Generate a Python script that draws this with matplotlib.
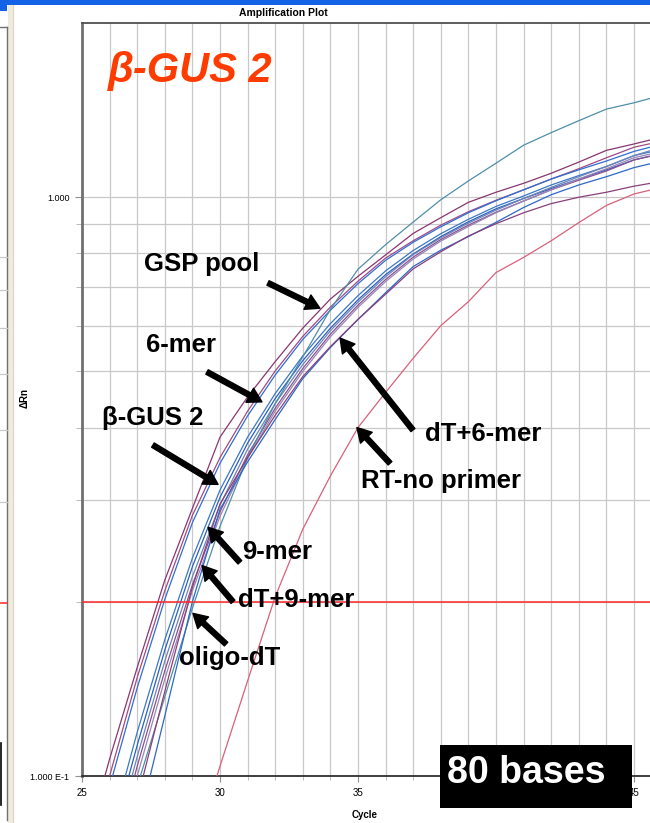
import matplotlib
matplotlib.use("Agg")
import matplotlib.pyplot as plt
from matplotlib.ticker import FixedLocator, FixedFormatter, NullFormatter
from matplotlib.patches import Rectangle
from matplotlib.lines import Line2D

# ---------------- data ----------------
cycles = list(range(25, 47))

gsp_pool = [0.072, 0.107, 0.154, 0.218, 0.290, 0.385, 0.452, 0.520, 0.594, 0.667, 0.730,
            0.795, 0.866, 0.922, 0.980, 1.020, 1.057, 1.100, 1.150, 1.205, 1.236, 1.270]
purple_early = [0.066, 0.100, 0.148, 0.209, 0.282, 0.355, 0.427, 0.501, 0.575, 0.646, 0.716,
                0.785, 0.841, 0.895, 0.944, 0.988, 1.030, 1.075, 1.120, 1.170, 1.220, 1.250]
six_mer = [0.0634, 0.0959, 0.142, 0.202, 0.274, 0.347, 0.419, 0.493, 0.568, 0.638, 0.709,
           0.778, 0.836, 0.889, 0.940, 0.986, 1.030, 1.075, 1.115, 1.155, 1.200, 1.235]
beta_gus2 = [0.0524, 0.0794, 0.119, 0.172, 0.238, 0.312, 0.385, 0.458, 0.532, 0.605, 0.676,
             0.746, 0.809, 0.865, 0.916, 0.964, 1.005, 1.050, 1.090, 1.130, 1.180, 1.210]
blue_mid = [0.050, 0.0755, 0.113, 0.165, 0.230, 0.303, 0.376, 0.449, 0.522, 0.594, 0.665,
            0.735, 0.798, 0.855, 0.907, 0.955, 0.995, 1.035, 1.075, 1.115, 1.160, 1.190]
nine_mer = [0.0472, 0.0715, 0.108, 0.158, 0.221, 0.294, 0.367, 0.440, 0.514, 0.588, 0.659,
            0.729, 0.796, 0.851, 0.902, 0.950, 0.995, 1.040, 1.085, 1.130, 1.180, 1.220]
dt_9mer = [0.0455, 0.0685, 0.104, 0.152, 0.214, 0.286, 0.359, 0.432, 0.506, 0.580, 0.651,
           0.721, 0.788, 0.845, 0.895, 0.942, 0.985, 1.030, 1.070, 1.110, 1.160, 1.190]
violet_mid = [0.044, 0.066, 0.100, 0.147, 0.209, 0.281, 0.354, 0.427, 0.500, 0.574, 0.645,
              0.715, 0.782, 0.840, 0.890, 0.940, 0.985, 1.030, 1.075, 1.120, 1.170, 1.200]
oligo_dt = [0.044, 0.065, 0.096, 0.137, 0.195, 0.270, 0.355, 0.440, 0.530, 0.640, 0.751,
            0.828, 0.906, 0.990, 1.067, 1.145, 1.230, 1.293, 1.356, 1.420, 1.456, 1.500]
dt_6mer = [0.033, 0.052, 0.081, 0.127, 0.200, 0.289, 0.349, 0.413, 0.486, 0.550, 0.615,
           0.684, 0.759, 0.810, 0.855, 0.905, 0.960, 1.010, 1.050, 1.085, 1.125, 1.155]
purple_late = [0.037, 0.058, 0.091, 0.140, 0.212, 0.295, 0.355, 0.420, 0.490, 0.552, 0.615,
               0.680, 0.752, 0.805, 0.857, 0.900, 0.940, 0.975, 1.000, 1.020, 1.045, 1.065]
rt_no_primer = [0.020, 0.028, 0.037, 0.050, 0.073, 0.104, 0.146, 0.204, 0.267, 0.330, 0.400,
                0.460, 0.527, 0.600, 0.660, 0.741, 0.787, 0.841, 0.904, 0.968, 1.013, 1.040]

series = [
    (gsp_pool, "#8a3670"), (purple_early, "#a04a88"), (six_mer, "#2f6fd0"),
    (beta_gus2, "#3a78c8"), (blue_mid, "#2a5fc0"), (nine_mer, "#6d84b8"),
    (dt_9mer, "#8a5090"), (violet_mid, "#9a86b4"), (oligo_dt, "#4f8fa8"),
    (dt_6mer, "#2c68c8"), (purple_late, "#88407a"), (rt_no_primer, "#d8607a"),
]

threshold = 0.2
x_major = [25, 30, 35, 45]
x_major_labels = ["25", "30", "35", "45"]
y_major = [0.1, 1.0]
y_major_labels = ["1.000 E-1", "1.000"]
y_minor = [0.2, 0.3, 0.4, 0.5, 0.6, 0.7, 0.8, 0.9]

# (label, text position, arrow tail, arrow tip) in data units
callouts = [
    ("GSP pool", (29.35, 0.766), (31.74, 0.711), (33.62, 0.643)),
    ("6-mer", (28.59, 0.555), (29.53, 0.499), (31.52, 0.443)),
    ("β-GUS 2", (27.57, 0.415), (27.57, 0.373), (29.93, 0.319)),
    ("9-mer", (32.07, 0.244), (30.72, 0.234), (29.57, 0.269)),
    ("dT+9-mer", (32.75, 0.2018), (30.47, 0.200), (29.35, 0.231)),
    ("oligo-dT", (30.36, 0.160), (30.22, 0.169), (29.02, 0.191)),
    ("dT+6-mer", (39.53, 0.390), (36.99, 0.396), (34.35, 0.571)),
    ("RT-no primer", (38.00, 0.323), (36.16, 0.347), (34.96, 0.400)),
]

# ---------------- figure ----------------
W, H = 650, 823
fig = plt.figure(figsize=(W / 100, H / 100), dpi=100, facecolor="white")


def fx(x):
    return x / W


def fy(y):
    return 1 - y / H


ax = fig.add_axes([fx(82), fy(776), (661.6 - 82) / W, (776 - 23) / H])
ax.set_yscale("log")
ax.set_xlim(25, 46)
ax.set_ylim(0.1, 2.0)

ax.xaxis.set_major_locator(FixedLocator(x_major))
ax.xaxis.set_major_formatter(FixedFormatter(x_major_labels))
ax.xaxis.set_minor_locator(FixedLocator(cycles))
ax.yaxis.set_major_locator(FixedLocator(y_major))
ax.yaxis.set_major_formatter(FixedFormatter(y_major_labels))
ax.yaxis.set_minor_locator(FixedLocator(y_minor))
ax.yaxis.set_minor_formatter(NullFormatter())

ax.set_axisbelow(True)
ax.grid(True, which="both", color="#c8c8c8", lw=0.9)

for vals, col in series:
    ax.plot(cycles, vals, color=col, lw=0.9, zorder=3)

ax.axhline(threshold, color="#ff2a2a", lw=1.1, zorder=4)

ax.spines["right"].set_visible(False)
ax.spines["left"].set_color("#707070")
ax.spines["left"].set_linewidth(2.0)
ax.spines["bottom"].set_color("#303030")
ax.spines["bottom"].set_linewidth(1.3)
ax.spines["top"].set_color("#505050")
ax.spines["top"].set_linewidth(1.3)

ax.tick_params(axis="y", which="major", length=5, color="#909090", labelsize=6.5, pad=4)
ax.tick_params(axis="y", which="minor", length=4, color="#b0b0b0")
ax.tick_params(axis="x", which="major", length=4, color="#909090", labelsize=7, pad=5)
ax.tick_params(axis="x", which="minor", length=3, color="#b0b0b0")
for lab in ax.get_xticklabels() + ax.get_yticklabels():
    lab.set_family("Liberation Sans")

# callout labels and arrows
for text, tpos, tail, tip in callouts:
    ax.text(tpos[0], tpos[1], text, ha="center", va="center", fontsize=18.5,
            fontweight="bold", family="Liberation Sans", color="black", zorder=6)
    ax.annotate("", xy=tip, xytext=tail,
                arrowprops=dict(arrowstyle="simple,head_width=1.15,head_length=1.0,tail_width=0.36",
                                mutation_scale=10, color="black", shrinkA=0, shrinkB=0),
                zorder=6)

# titles
fig.text(fx(283), fy(13), "Amplification Plot", ha="center", va="center",
         fontsize=7.5, fontweight="bold", family="Liberation Sans")
fig.text(fx(365), fy(815), "Cycle", ha="center", va="center",
         fontsize=7, fontweight="bold", family="Liberation Sans")
fig.text(fx(25), fy(398), "ΔRn", ha="center", va="center", rotation=90,
         fontsize=7, fontweight="bold", family="Liberation Sans")
fig.text(fx(108), fy(82), "β-GUS 2", ha="left", va="baseline", color="#ff3c00",
         fontsize=30, fontweight="bold", fontstyle="italic", family="Liberation Sans")

# amplicon size badge
fig.add_artist(Rectangle((fx(440), fy(808)), 192 / W, 63 / H, transform=fig.transFigure,
                         facecolor="black", edgecolor="none", zorder=10))
fig.text(fx(447), fy(783), "80 bases", ha="left", va="baseline", color="white",
         fontsize=27, fontweight="bold", family="Liberation Sans", zorder=11)

# window chrome along the top and left edges
fig.add_artist(Rectangle((0, fy(5)), 1, 5 / H, transform=fig.transFigure,
                         facecolor="#1462e6", edgecolor="none", zorder=9))
fig.add_artist(Rectangle((0, fy(11)), fx(7), 6 / H, transform=fig.transFigure,
                         facecolor="#1462e6", edgecolor="none", zorder=9))
fig.add_artist(Rectangle((fx(8), 0), fx(6), fy(5), transform=fig.transFigure,
                         facecolor="#efebdf", edgecolor="none", zorder=9))
fig.add_artist(Line2D([fx(13), fx(13)], [0, fy(5)], transform=fig.transFigure,
                      color="#ddd6c4", lw=0.8, zorder=9))
fig.add_artist(Line2D([fx(7), fx(7)], [fy(820), fy(27)], transform=fig.transFigure,
                      color="#707070", lw=1.0, zorder=9))
fig.add_artist(Line2D([0, fx(7)], [fy(27), fy(27)], transform=fig.transFigure,
                      color="#707070", lw=1.0, zorder=9))
for yy in (257, 290, 328, 374, 430, 502):
    fig.add_artist(Line2D([0, fx(7)], [fy(yy), fy(yy)], transform=fig.transFigure,
                          color="#c8c8c8", lw=0.9, zorder=9))
fig.add_artist(Line2D([0, fx(7)], [fy(603), fy(603)], transform=fig.transFigure,
                      color="#ff2a2a", lw=1.1, zorder=9))
fig.add_artist(Line2D([fx(0.5), fx(0.5)], [fy(805), fy(743)], transform=fig.transFigure,
                      color="black", lw=1.2, zorder=9))

fig.savefig("out.png", dpi=100, facecolor="white")
